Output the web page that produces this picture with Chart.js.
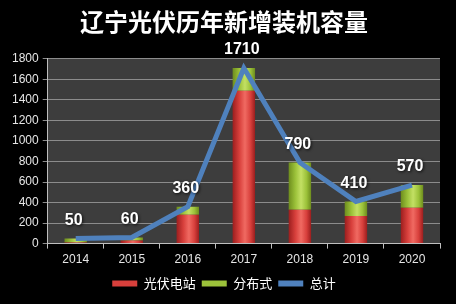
<!DOCTYPE html>
<html>
<head>
<meta charset="utf-8">
<script src="https://cdn.jsdelivr.net/npm/chart.js@4"></script>
<style>
  html,body{margin:0;padding:0;background:#000;}
  #wrap{width:456px;height:304px;}
</style>
</head>
<body>
<div id="wrap"><canvas id="chart"></canvas></div>
<script>
const years = ["2014","2015","2016","2017","2018","2019","2020"];
const station = [10, 30, 280, 1490, 330, 270, 350];
const distributed = [40, 30, 80, 220, 460, 140, 220];
const totals = [50, 60, 360, 1710, 790, 410, 570];
const yTicks = [0, 200, 400, 600, 800, 1000, 1200, 1400, 1600, 1800];

const FONT = "'Noto Sans CJK SC', 'Liberation Sans', sans-serif";
const NUM_FONT = "'Liberation Sans', Arial, sans-serif";
const legendColors = ["#d8403c", "#9cc23a", "#4f81bd"];

// bevel look: dark edges, lighter middle
function barFill(ctx, dark, mid, light){
    const chart = ctx.chart;
    if(!chart.chartArea || ctx.type !== "data") return mid;
    const x = chart.scales.x.getPixelForValue(ctx.dataIndex);
    const half = 11;
    const g = chart.ctx.createLinearGradient(x-half,0,x+half,0);
    g.addColorStop(0,dark);
    g.addColorStop(0.3,mid);
    g.addColorStop(0.55,light);
    g.addColorStop(0.8,mid);
    g.addColorStop(1,dark);
    return g;
}

const plotBg = {
    id:"plotBg",
    beforeDraw(chart){
        const {ctx, chartArea:a} = chart;
        ctx.save();
        ctx.fillStyle = "#3d3d3d";
        ctx.fillRect(a.left, a.top, a.right-a.left, a.bottom-a.top);
        ctx.restore();
    }
};

const totalLabels = {
    id:"totalLabels",
    afterDatasetsDraw(chart){
        const meta = chart.getDatasetMeta(2);
        const ctx = chart.ctx;
        ctx.save();
        ctx.font = "bold 16px " + NUM_FONT;
        ctx.textAlign = "center";
        ctx.textBaseline = "bottom";
        ctx.shadowColor = "rgba(0,0,0,0.8)";
        ctx.shadowBlur = 3;
        ctx.shadowOffsetX = 1;
        ctx.shadowOffsetY = 1;
        ctx.fillStyle = "#ffffff";
        meta.data.forEach((pt,i)=>{
            ctx.fillText(String(totals[i]), pt.x - 2, pt.y - 10);
        });
        ctx.restore();
    }
};

new Chart(document.getElementById("chart"),{
    data:{
        labels:years,
        datasets:[
            {
                type:"bar",
                label:"光伏电站",
                data:station,
                backgroundColor:c=>barFill(c,"#9e1f1f","#d8403c","#f06a62"),
                stack:"s",
                order:2,
                categoryPercentage:1,
                barPercentage:0.4
            },
            {
                type:"bar",
                label:"分布式",
                data:distributed,
                backgroundColor:c=>barFill(c,"#6f8f1e","#9cc23a","#c3e064"),
                stack:"s",
                order:2,
                categoryPercentage:1,
                barPercentage:0.4
            },
            {
                type:"line",
                label:"总计",
                data:totals,
                borderColor:"#4f81bd",
                backgroundColor:"#4f81bd",
                borderWidth:5,
                pointRadius:0,
                tension:0,
                order:1
            }
        ]
    },
    plugins:[plotBg, totalLabels],
    options:{
        responsive:true,
        maintainAspectRatio:false,
        animation:false,
        layout:{padding:{left:8,right:16,top:0,bottom:4}},
        plugins:{
            title:{
                display:true,
                text:"辽宁光伏历年新增装机容量",
                color:"#ffffff",
                font:{family:FONT,size:24,weight:"bold"},
                padding:{top:7,bottom:23}
            },
            legend:{
                position:"bottom",
                labels:{
                    color:"#ffffff",
                    font:{family:FONT,size:13},
                    boxWidth:25,
                    boxHeight:6,
                    padding:6,
                    generateLabels(chart){
                        return chart.data.datasets.map((ds,i)=>({
                            text:ds.label,
                            fillStyle:legendColors[i],
                            strokeStyle:legendColors[i],
                            lineWidth:0,
                            fontColor:"#ffffff",
                            hidden:false,
                            datasetIndex:i
                        }));
                    }
                }
            },
            tooltip:{enabled:false}
        },
        scales:{
            x:{
                stacked:true,
                grid:{display:true, drawOnChartArea:false, color:"#bfbfbf", tickLength:5, offset:true},
                border:{color:"#bfbfbf"},
                ticks:{color:"#e6e6e6", font:{family:NUM_FONT, size:12}, padding:4}
            },
            y:{
                stacked:true,
                min:0,
                max:1800,
                afterBuildTicks(axis){ axis.ticks = yTicks.map(v=>({value:v})); },
                grid:{color:"#8c8c8c", lineWidth:1, tickLength:5},
                border:{color:"#bfbfbf"},
                ticks:{color:"#e6e6e6", font:{family:NUM_FONT, size:12}, padding:4, callback:v=>String(v)}
            }
        }
    }
});
</script>
</body>
</html>
